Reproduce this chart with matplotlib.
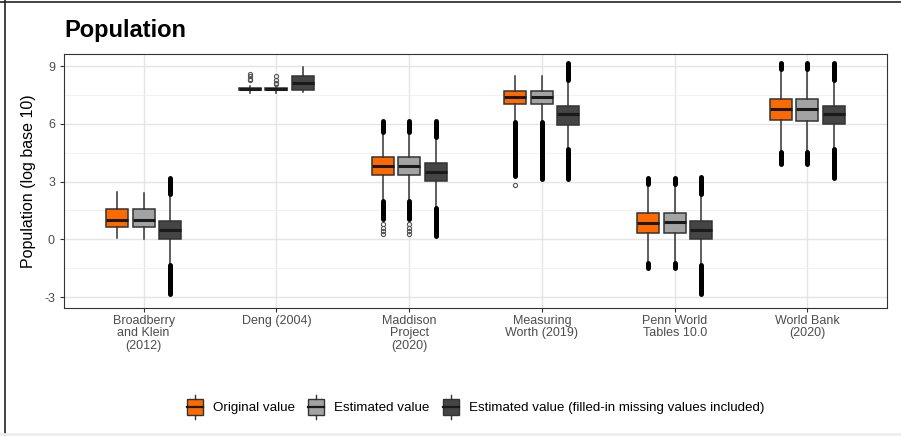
import matplotlib
matplotlib.use("Agg")
import matplotlib.pyplot as plt
from matplotlib.patches import Rectangle
from matplotlib.lines import Line2D
from matplotlib.legend_handler import HandlerBase

plt.rcParams['font.family'] = ['Liberation Sans', 'DejaVu Sans']

# categories and series
sources = ["Broadberry\nand Klein\n(2012)", "Deng (2004)", "Maddison\nProject\n(2020)",
           "Measuring\nWorth (2019)", "Penn World\nTables 10.0", "World Bank\n(2020)"]
series = ["Original value", "Estimated value", "Estimated value (filled-in missing values included)"]
colors = ["#FF6A00", "#A3A3A3", "#454545"]

# box statistics, one row per series, one column per source
q3 = [[1.56, 7.87, 4.28, 7.69, 1.36, 7.27],
      [1.58, 7.87, 4.28, 7.69, 1.36, 7.27],
      [0.97, 8.49, 3.95, 6.92, 0.96, 6.92]]
med = [[1.00, 7.81, 3.79, 7.39, 0.87, 6.76],
       [0.99, 7.81, 3.79, 7.39, 0.88, 6.78],
       [0.50, 8.15, 3.51, 6.49, 0.49, 6.49]]
q1 = [[0.66, 7.74, 3.36, 7.04, 0.31, 6.19],
      [0.64, 7.74, 3.36, 7.02, 0.31, 6.16],
      [0.00, 7.77, 3.01, 5.95, 0.00, 5.98]]
whi = [[2.47, 7.95, 5.60, 8.47, 2.87, 8.87],
       [2.40, 7.95, 5.60, 8.47, 2.87, 8.87],
       [2.35, 8.96, 5.30, 8.26, 2.35, 8.26]]
wlo = [[0.09, 7.62, 2.00, 6.09, -1.22, 4.52],
       [0.00, 7.62, 2.00, 6.10, -1.22, 4.52],
       [-1.36, 7.65, 1.65, 4.70, -1.36, 4.70]]

# dense outliers: they run from the whisker end to these values
out_top = [[None, None, 6.17, None, 3.18, 9.18],
           [None, None, 6.17, None, 3.18, 9.18],
           [3.20, None, 6.17, 9.18, 3.22, 9.18]]
out_bottom = [[None, None, 1.04, 3.30, -1.48, 3.91],
              [None, None, 1.04, 3.13, -1.48, 3.91],
              [-2.82, None, 0.17, 3.13, -2.82, 3.18]]

# sparse outliers (series index, source index, values)
sparse_out = [(0, 1, [8.27, 8.35, 8.50, 8.60]),
              (1, 1, [8.05, 8.15, 8.30, 8.50]),
              (0, 2, [0.26, 0.45, 0.60, 0.78]),
              (1, 2, [0.26, 0.45, 0.60, 0.78]),
              (0, 3, [2.82])]

fig = plt.figure(figsize=(9.01, 4.36), dpi=100)
ax = fig.add_axes([0.071, 0.2936, 0.9135, 0.5824])

offset = 0.2
box_w = 0.165
for s in range(3):
    stats = []
    pos = []
    for g in range(len(sources)):
        stats.append(dict(med=med[s][g], q1=q1[s][g], q3=q3[s][g],
                          whislo=wlo[s][g], whishi=whi[s][g], fliers=[]))
        pos.append(g + 1 + (s - 1) * offset)
    ax.bxp(stats, positions=pos, widths=box_w, patch_artist=True,
           showcaps=False, showfliers=False,
           boxprops=dict(facecolor=colors[s], edgecolor="#333333", linewidth=1.1),
           whiskerprops=dict(color="#333333", linewidth=1.1),
           medianprops=dict(color="#1a1a1a", linewidth=2.2),
           zorder=3)
    for g in range(len(sources)):
        x = g + 1 + (s - 1) * offset
        if out_top[s][g] is not None:
            ax.plot([x, x], [whi[s][g], out_top[s][g]], color="black", lw=3.6,
                    solid_capstyle="round", zorder=4)
        if out_bottom[s][g] is not None:
            ax.plot([x, x], [wlo[s][g], out_bottom[s][g]], color="black", lw=3.6,
                    solid_capstyle="round", zorder=4)

for s, g, vals in sparse_out:
    x = g + 1 + (s - 1) * offset
    ax.plot([x] * len(vals), vals, "o", ms=3, mfc="none", mec="#555555", mew=0.8, zorder=4)

ax.set_xlim(0.4, 6.6)
ax.set_ylim(-3.57, 9.63)
ax.set_xticks(range(1, len(sources) + 1))
ax.set_xticklabels(sources, fontsize=9, color="#4D4D4D", linespacing=1.05)
ax.set_yticks([-3, 0, 3, 6, 9])
ax.set_yticklabels(["-3", "0", "3", "6", "9"], fontsize=9, color="#4D4D4D")
ax.set_yticks([-1.5, 1.5, 4.5, 7.5], minor=True)
ax.tick_params(axis="both", which="major", length=3, color="#333333", width=0.8)
ax.tick_params(axis="x", which="major", pad=2)
ax.tick_params(axis="y", which="minor", length=0)
ax.grid(True, which="major", color="#E5E5E5", lw=1.0, zorder=0)
ax.grid(True, which="minor", axis="y", color="#EFEFEF", lw=0.6, zorder=0)
ax.set_axisbelow(True)
for sp in ax.spines.values():
    sp.set_color("#333333")
    sp.set_linewidth(0.8)
ax.set_ylabel("Population (log base 10)", fontsize=11.5, color="black", labelpad=6)

fig.text(64 / 901, 1 - 30 / 436, "Population", fontsize=17, fontweight="bold",
         va="center", ha="left")


class BoxHandler(HandlerBase):
    def create_artists(self, legend, orig_handle, xdescent, ydescent, width, height, fontsize, trans):
        x0, y0 = -xdescent, -ydescent
        fc = orig_handle.get_facecolor()
        r = Rectangle((x0, y0 + height * 0.17), width, height * 0.66, facecolor=fc,
                      edgecolor="#333333", lw=1.0, transform=trans)
        m = Line2D([x0, x0 + width], [y0 + height * 0.5] * 2, color="#1a1a1a", lw=1.6, transform=trans)
        w1 = Line2D([x0 + width / 2] * 2, [y0 + height * 0.83, y0 + height * 1.0],
                    color="#333333", lw=1.0, transform=trans)
        w2 = Line2D([x0 + width / 2] * 2, [y0, y0 + height * 0.17],
                    color="#333333", lw=1.0, transform=trans)
        return [r, m, w1, w2]


handles = [Rectangle((0, 0), 1, 1, facecolor=c) for c in colors]
fig.legend(handles, series, loc="center", bbox_to_anchor=(0.528, 1 - 407 / 436), ncol=3,
           frameon=False, fontsize=9.6, handlelength=1.2, handleheight=2.3,
           handletextpad=0.75, columnspacing=1.0,
           handler_map={Rectangle: BoxHandler()})

# outer frame lines
fig.add_artist(Line2D([0, 1], [1 - 2 / 436] * 2, color="#222222", lw=1.2, transform=fig.transFigure))
fig.add_artist(Line2D([5 / 901] * 2, [0, 1], color="#222222", lw=1.2, transform=fig.transFigure))
fig.add_artist(Line2D([0, 1], [2 / 436] * 2, color="#EEEEEE", lw=2, transform=fig.transFigure))

fig.savefig("out.png", dpi=100)
